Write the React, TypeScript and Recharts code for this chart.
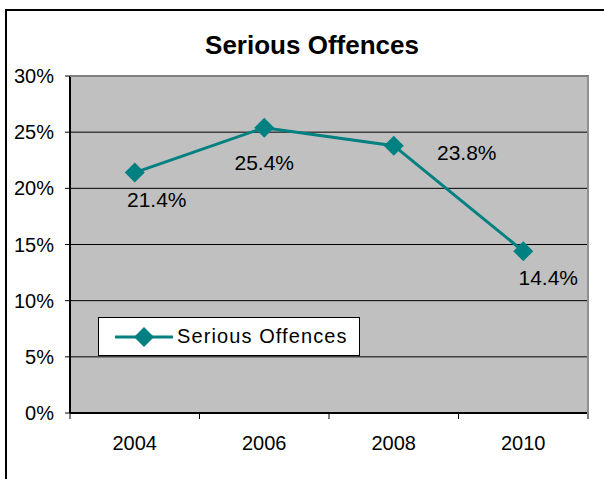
import { CartesianGrid, ComposedChart, LabelList, Line, XAxis, YAxis } from 'recharts';

const years = ['2004', '2006', '2008', '2010'];
const seriousOffences = [21.4, 25.4, 23.8, 14.4];
const yTicks = [0, 5, 10, 15, 20, 25, 30];

// where Excel put each data label, relative to its point
const labelOffsets = [
  { dx: 22, dy: 27 },
  { dx: 0, dy: 35 },
  { dx: 73, dy: 7 },
  { dx: 25, dy: 26 },
];

const W = 604;
const H = 479;
const xAxisHeight = 30;
const margin = { top: 76, right: 16, bottom: 66 - xAxisHeight, left: 10 };
const yAxisWidth = 60;
const plotLeft = margin.left + yAxisWidth;
const plotWidth = W - plotLeft - margin.right;
const plotHeight = H - margin.top - margin.bottom - xAxisHeight;
const bandWidth = plotWidth / years.length;
const teal = '#008080';
const font = '"Liberation Sans", Arial, sans-serif';

const data = years.map((year, i) => ({ year, value: seriousOffences[i] }));

const YearTick = ({ x, y, payload, index }: any) => (
  <g>
    <line x1={x - bandWidth / 2} x2={x - bandWidth / 2} y1={y} y2={y + 6} stroke="#000" />
    {index === years.length - 1 && (
      <line x1={x + bandWidth / 2} x2={x + bandWidth / 2} y1={y} y2={y + 6} stroke="#000" />
    )}
    <text x={x} y={y + 30} textAnchor="middle" dominantBaseline="central" fontSize={20} fill="#000" fontFamily={font}>
      {payload.value}
    </text>
  </g>
);

const ValueLabel = ({ x, y, value, index }: any) => {
  const off = labelOffsets[index] || { dx: 0, dy: 25 };
  return (
    <text x={x + off.dx} y={y + off.dy} textAnchor="middle" dominantBaseline="central" fontSize={21} fill="#000" fontFamily={font}>
      {value.toFixed(1)}%
    </text>
  );
};

const Diamond = ({ cx, cy }: any) => (
  <path d={`M${cx},${cy - 10} L${cx + 10},${cy} L${cx},${cy + 10} L${cx - 10},${cy} Z`} fill={teal} />
);

export default function App() {
  return (
    <div style={{ position: 'absolute', left: 0, top: 0, width: W, height: H, overflow: 'hidden', background: '#fff', fontFamily: font }}>
      <div style={{ position: 'absolute', left: 5, top: 9, width: 700, height: 700, borderLeft: '2px solid #000', borderTop: '2px solid #000' }} />
      <div style={{ position: 'absolute', left: 0, width: 624, top: 28, textAlign: 'center', fontSize: 26, fontWeight: 'bold', lineHeight: '34px' }}>
        Serious Offences
      </div>
      <ComposedChart width={W} height={H} data={data} margin={margin} style={{ position: 'absolute', left: 0, top: 0 }}>
        <CartesianGrid vertical={false} stroke="#000" fill="#C0C0C0" />
        <XAxis
          dataKey="year"
          height={xAxisHeight}
          padding={{ left: bandWidth / 2, right: bandWidth / 2 }}
          axisLine={{ stroke: '#000', strokeWidth: 2 }}
          tickLine={false}
          tickSize={0}
          tickMargin={0}
          tick={<YearTick />}
          interval={0}
        />
        <YAxis
          width={yAxisWidth}
          domain={[0, 30]}
          ticks={yTicks}
          tickFormatter={(v) => `${v}%`}
          axisLine={{ stroke: '#000', strokeWidth: 2 }}
          tickLine={{ stroke: '#000' }}
          tickSize={5}
          tickMargin={11}
          tick={{ fontSize: 20, fill: '#000', fontFamily: font }}
        />
        <Line
          dataKey="value"
          stroke={teal}
          strokeWidth={3}
          dot={<Diamond />}
          activeDot={false}
          isAnimationActive={false}
        >
          <LabelList dataKey="value" content={<ValueLabel />} />
        </Line>
      </ComposedChart>
      {/* grey plot-area frame on top and right, like Excel */}
      <div
        style={{
          position: 'absolute',
          left: plotLeft,
          top: margin.top - 1,
          width: plotWidth - 1,
          height: plotHeight,
          borderTop: '2px solid #808080',
          borderRight: '2px solid #909090',
          pointerEvents: 'none',
        }}
      />
      <div style={{ position: 'absolute', left: 98, top: 317, width: 260, height: 37, background: '#fff', border: '1px solid #000', display: 'flex', alignItems: 'center' }}>
        <svg width={70} height={36} style={{ marginLeft: 14 }}>
          <line x1={2} x2={60} y1={18} y2={18} stroke={teal} strokeWidth={3} />
          <path d="M31,8 L41,18 L31,28 L21,18 Z" fill={teal} />
        </svg>
        <span style={{ fontSize: 20, marginLeft: -6, letterSpacing: 1.1 }}>Serious Offences</span>
      </div>
    </div>
  );
}
